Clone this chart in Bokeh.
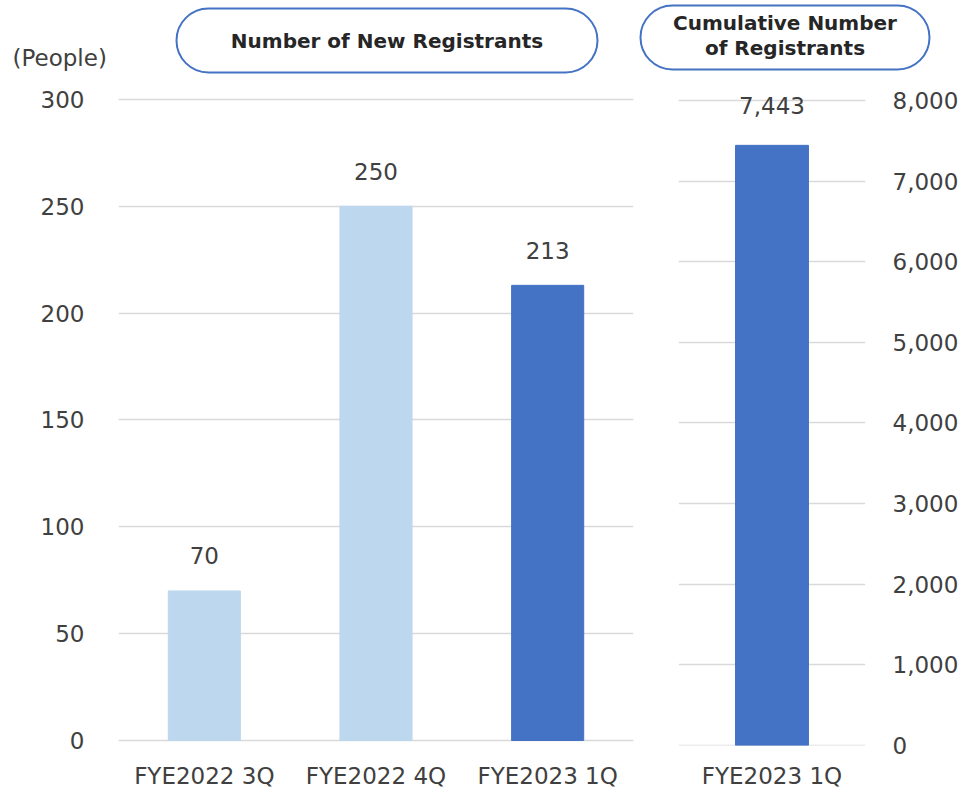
from bokeh.plotting import figure
from bokeh.models import (ColumnDataSource, LabelSet, Label, BoxAnnotation, Range1d,
                          FixedTicker, NumeralTickFormatter, Span)
from bokeh.core.properties import value
from bokeh.layouts import column, row
from bokeh.embed import file_html
from bokeh.resources import INLINE

# ---- data ----
new_categories = ["FYE2022 3Q", "FYE2022 4Q", "FYE2023 1Q"]
new_registrants = [70, 250, 213]
cum_categories = ["FYE2023 1Q"]
cum_registrants = [7443]
left_ticks = [0, 50, 100, 150, 200, 250, 300]
right_ticks = [0, 1000, 2000, 3000, 4000, 5000, 6000, 7000, 8000]
unit_label = "(People)"
title_new = "Number of New Registrants"
title_cum = "Cumulative Number\nof Registrants"

# ---- styles ----
FONT = "DejaVu Sans"
TXT = "#404040"
LIGHT = "#BDD7EE"
DARK = "#4472C4"
GRID = "#D9D9D9"
FS = "23px"
new_colors = [LIGHT, LIGHT, DARK]
cum_colors = [DARK]

TOTAL_W = 961
TOTAL_H = 791
STRIP_H = 80
LOW_H = TOTAL_H - STRIP_H
LEFT_W = 640
RIGHT_W = TOTAL_W - LEFT_W
BOTTOM_BORDER = 44
FRAME_H = LOW_H - BOTTOM_BORDER  # both frames are aligned by the row layout


def padded_range(lo, hi, pad_top, pad_bottom):
    span_px = FRAME_H - pad_top - pad_bottom
    upp = (hi - lo) / span_px
    return Range1d(lo - pad_bottom * upp, hi + pad_top * upp)


def style_axes(p, edge_ticks):
    for ax in p.axis:
        ax.axis_line_color = None
        ax.major_tick_line_color = None
        ax.minor_tick_line_color = None
        ax.major_tick_in = 0
        ax.major_tick_out = 0
        ax.minor_tick_in = 0
        ax.minor_tick_out = 0
        ax.major_label_text_font = FONT
        ax.major_label_text_font_size = FS
        ax.major_label_text_color = TXT
    p.xgrid.grid_line_color = None
    p.ygrid.grid_line_color = GRID
    p.ygrid.grid_line_width = 1.5
    p.outline_line_color = None
    # grid lines at the range ends (Bokeh's grid skips them)
    for loc in edge_ticks:
        p.add_layout(Span(location=loc, dimension="width", line_color=GRID,
                          line_width=1.5, level="underlay"))


# ---- top strip with titles ----
strip = figure(width=TOTAL_W, height=STRIP_H, x_range=Range1d(0, TOTAL_W),
               y_range=Range1d(STRIP_H, 0),
               x_axis_location=None, y_axis_location=None, toolbar_location=None,
               output_backend="svg", min_border=0)
strip.outline_line_color = None
strip.xgrid.visible = False
strip.ygrid.visible = False

strip.add_layout(BoxAnnotation(left=176, right=597, top=8, bottom=72, fill_color="white",
                               fill_alpha=1, line_color=DARK, line_alpha=1, line_width=2,
                               border_radius=32))
strip.add_layout(BoxAnnotation(left=640, right=929, top=5, bottom=69, fill_color="white",
                               fill_alpha=1, line_color=DARK, line_alpha=1, line_width=2,
                               border_radius=32))
strip.add_layout(Label(x=386.5, y=40, text=title_new, text_align="center", text_baseline="middle",
                       text_font=FONT, text_font_size="20px", text_font_style="bold",
                       text_color="#262626"))
strip.add_layout(Label(x=784.5, y=35, text=title_cum, text_align="center", text_baseline="middle",
                       text_font=FONT, text_font_size="20px", text_font_style="bold",
                       text_color="#262626", text_line_height=1.05))
strip.add_layout(Label(x=12, y=57, text=unit_label, text_align="left", text_baseline="middle",
                       text_font=FONT, text_font_size=FS, text_color=TXT))

# ---- left: new registrants ----
src_new = ColumnDataSource(dict(cat=new_categories, val=new_registrants, color=new_colors,
                                lbl=[f"{v:,}" for v in new_registrants]))
left = figure(width=LEFT_W, height=LOW_H, x_range=new_categories,
              y_range=padded_range(left_ticks[0], left_ticks[-1], 19, 5),
              toolbar_location=None, output_backend="svg",
              min_border_left=118, min_border_right=7, min_border_top=0,
              min_border_bottom=BOTTOM_BORDER)
left.vbar(x="cat", top="val", width=0.42, color="color", source=src_new)
left.yaxis.ticker = FixedTicker(ticks=left_ticks)
style_axes(left, ())
left.yaxis.major_label_standoff = 34
left.xaxis.major_label_standoff = 17
left.add_layout(LabelSet(x="cat", y="val", text="lbl", source=src_new, y_offset=35,
                         text_align="center", text_baseline="middle", text_font=value(FONT),
                         text_font_size=value(FS), text_color=TXT))

# ---- right: cumulative ----
src_cum = ColumnDataSource(dict(cat=cum_categories, val=cum_registrants, color=cum_colors,
                                lbl=[f"{v:,}" for v in cum_registrants]))
right = figure(width=RIGHT_W, height=LOW_H, x_range=cum_categories,
               y_range=padded_range(right_ticks[0], right_ticks[-1], 20, 0),
               y_axis_location="right", toolbar_location=None, output_backend="svg",
               min_border_left=38, min_border_right=95, min_border_top=0,
               min_border_bottom=BOTTOM_BORDER)
right.vbar(x="cat", top="val", width=0.39, color="color", source=src_cum)
right.yaxis.ticker = FixedTicker(ticks=right_ticks)
right.yaxis.formatter = NumeralTickFormatter(format="0,0")
style_axes(right, (right_ticks[0],))
right.yaxis.major_label_standoff = 27
right.yaxis.major_label_text_align = "left"
right.xaxis.major_label_standoff = 17
right.add_layout(LabelSet(x="cat", y="val", text="lbl", source=src_cum, y_offset=40,
                          text_align="center", text_baseline="middle", text_font=value(FONT),
                          text_font_size=value(FS), text_color=TXT))

layout = column(strip, row(left, right, spacing=0), spacing=0)
open("out.html", "w").write(file_html(layout, INLINE))
